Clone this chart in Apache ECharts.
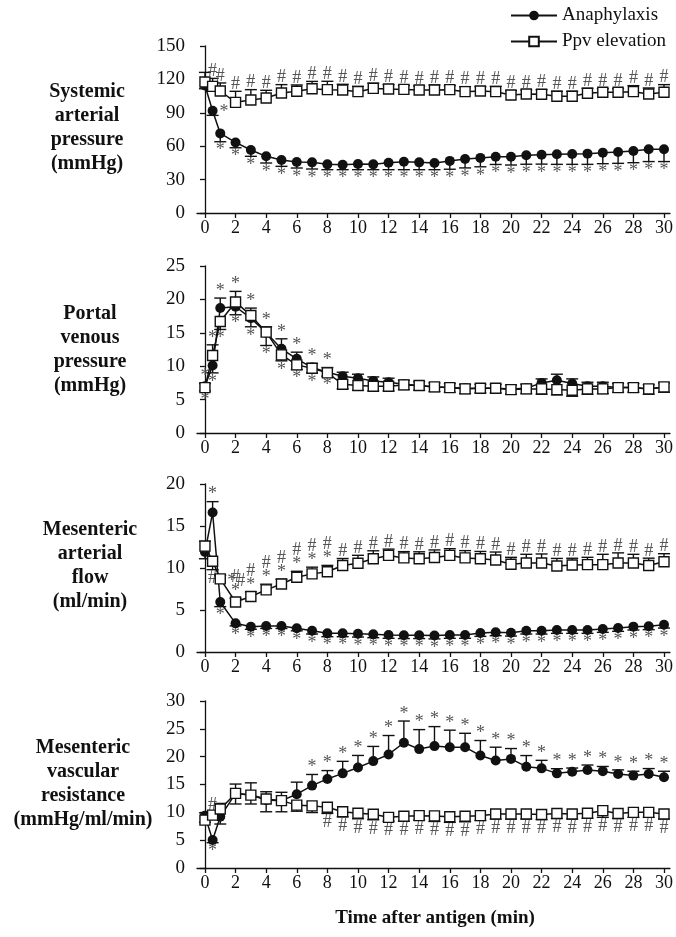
<!DOCTYPE html>
<html>
<head>
<meta charset="utf-8">
<title>Anaphylaxis vs Ppv elevation</title>
<script src="https://cdn.jsdelivr.net/npm/echarts@6/dist/echarts.min.js"></script>
<style>
  html, body { margin: 0; padding: 0; background: #fff; }
  #chart { width: 676px; height: 937px; }
</style>
</head>
<body>
<div id="chart"></div>
<script>
// sampling times, min after antigen
const times = [0, 0.5, 1, 2, 3, 4, 5, 6, 7, 8, 9, 10, 11, 12, 13, 14, 15, 16, 17, 18, 19, 20, 21, 22, 23, 24, 25, 26, 27, 28, 29, 30];
const xTicks = [0, 2, 4, 6, 8, 10, 12, 14, 16, 18, 20, 22, 24, 26, 28, 30];

// systemic arterial pressure (mmHg)
const sapAna = [114.6, 91.9, 71.5, 63.4, 56.6, 50.9, 47.6, 45.8, 45.5, 43.7, 43.4, 44.0, 43.7, 45.2, 46.1, 45.5, 44.9, 46.8, 48.5, 49.5, 50.6, 50.6, 51.8, 52.4, 52.7, 53.0, 53.3, 54.2, 54.8, 55.7, 57.2, 57.2];
const sapAnaSd = [3, 4.2, 7.5, 4.8, 5.7, 6.0, 5.7, 5.4, 6.0, 4.8, 4.5, 5.1, 4.8, 6.3, 7.2, 6.6, 6.0, 7.5, 8.0, 8.0, 7.0, 7.5, 8.0, 8.5, 9.0, 9.3, 9.6, 9.9, 10.2, 10.5, 11.0, 11.0];
const sapPpv = [117.6, 113.7, 109.6, 99.4, 101.5, 103.3, 107.8, 109.3, 111.6, 110.8, 110.5, 109.0, 111.9, 111.4, 111.0, 110.5, 110.5, 110.8, 109.0, 109.6, 109.0, 106.0, 106.9, 106.6, 104.8, 104.8, 107.5, 108.4, 108.4, 109.0, 106.9, 108.4];
const sapPpvSd = [8.7, 7.2, 7.2, 9.9, 9.3, 6.9, 7.5, 5.7, 6.6, 7.5, 5.1, 4.8, 4.8, 3.9, 3.6, 3.6, 4.5, 3.6, 4.5, 3.9, 4.8, 3.9, 3.6, 4.2, 4.5, 4.5, 4.5, 3.3, 3.3, 5.4, 5.4, 6.9];
const sapAnaSig = ['', '*', '*', '*', '*', '*', '*', '*', '*', '*', '*', '*', '*', '*', '*', '*', '*', '*', '*', '*', '*', '*', '*', '*', '*', '*', '*', '*', '*', '*', '*', '*'];
const sapPpvSig = ['', '#', '#', '#', '#', '#', '#', '#', '#', '#', '#', '#', '#', '#', '#', '#', '#', '#', '#', '#', '#', '#', '#', '#', '#', '#', '#', '#', '#', '#', '#', '#'];

// portal venous pressure (mmHg)
const pvpAna = [7.0, 10.1, 18.7, 18.9, 17.2, 15.0, 12.6, 11.1, 9.8, 9.1, 8.5, 8.2, 7.8, 7.6, 7.3, 7.1, 6.9, 6.8, 6.7, 6.7, 6.7, 6.6, 6.7, 7.5, 7.9, 7.4, 7.0, 7.0, 6.8, 6.8, 6.6, 6.9];
const pvpAnaSd = [0.4, 1.1, 1.5, 1.2, 1.3, 1.9, 1.5, 1.0, 0.6, 0.7, 0.6, 0.6, 0.6, 0.6, 0.6, 0.6, 0.6, 0.6, 0.6, 0.6, 0.6, 0.6, 0.6, 0.6, 0.9, 0.7, 0.6, 0.6, 0.6, 0.6, 0.6, 0.6];
const pvpPpv = [6.8, 11.6, 16.7, 19.6, 17.6, 15.1, 11.7, 10.2, 9.7, 9.0, 7.3, 7.1, 7.0, 7.0, 7.2, 7.1, 6.9, 6.8, 6.6, 6.7, 6.7, 6.5, 6.6, 6.6, 6.5, 6.4, 6.6, 6.6, 6.8, 6.8, 6.6, 6.9];
const pvpPpvSd = [0.5, 1.6, 1.2, 1.6, 1.1, 0.8, 0.9, 0.7, 0.7, 0.5, 0.7, 0.7, 0.7, 0.7, 0.7, 0.7, 0.7, 0.7, 0.7, 0.7, 0.7, 0.7, 0.7, 0.8, 0.8, 0.9, 0.8, 0.7, 0.7, 0.7, 0.8, 0.8];
const pvpAnaSig = ['*', '*', '*', '*', '*', '*', '*', '*', '*', '*', '', '', '', '', '', '', '', '', '', '', '', '', '', '', '', '', '', '', '', '', '', ''];
const pvpPpvSig = ['*', '*', '*', '*', '*', '*', '*', '*', '*', '*', '', '', '', '', '', '', '', '', '', '', '', '', '', '', '', '', '', '', '', '', '', ''];

// mesenteric arterial flow (ml/min)
const mafAna = [11.9, 16.6, 5.95, 3.41, 3.0, 3.1, 3.1, 2.82, 2.54, 2.22, 2.22, 2.18, 2.1, 2.03, 2.0, 2.0, 1.96, 2.03, 2.03, 2.26, 2.34, 2.3, 2.54, 2.54, 2.62, 2.62, 2.62, 2.74, 2.86, 3.02, 3.06, 3.25];
const mafAnaSd = [0.8, 1.3, 0.55, 0.3, 0.3, 0.3, 0.3, 0.3, 0.4, 0.4, 0.4, 0.4, 0.4, 0.4, 0.4, 0.4, 0.4, 0.4, 0.4, 0.4, 0.4, 0.4, 0.4, 0.4, 0.4, 0.4, 0.4, 0.4, 0.4, 0.4, 0.4, 0.4];
const mafPpv = [12.6, 10.8, 8.7, 5.95, 6.6, 7.4, 8.1, 8.9, 9.3, 9.56, 10.3, 10.56, 11.1, 11.5, 11.2, 11.1, 11.25, 11.5, 11.2, 11.1, 10.95, 10.44, 10.6, 10.6, 10.24, 10.36, 10.4, 10.4, 10.6, 10.6, 10.3, 10.75];
const mafPpvSd = [0.6, 1.0, 0.44, 0.44, 0.56, 0.67, 0.56, 0.71, 0.8, 0.75, 0.83, 0.95, 0.95, 0.75, 0.75, 0.83, 0.9, 0.8, 0.87, 0.87, 0.95, 0.83, 1.03, 1.07, 0.9, 0.8, 0.87, 1.23, 1.2, 1.03, 0.87, 0.95];
const mafAnaSig = ['', '*', '*', '*', '*', '*', '*', '*', '*', '*', '*', '*', '*', '*', '*', '*', '*', '*', '*', '*', '*', '*', '*', '*', '*', '*', '*', '*', '*', '*', '*', '*'];
const mafPpvSig = ['', '#', '*#', '*#', '*#', '*#', '*#', '*#', '*#', '*#', '#', '#', '#', '#', '#', '#', '#', '#', '#', '#', '#', '#', '#', '#', '#', '#', '#', '#', '#', '#', '#', '#'];

// mesenteric vascular resistance (mmHg/ml/min)
const mvrAna = [9.4, 5.04, 9.2, 13.4, 13.1, 12.2, 12.1, 13.26, 14.8, 16.0, 17.0, 18.06, 19.2, 20.4, 22.5, 21.36, 21.9, 21.7, 21.7, 20.2, 19.3, 19.6, 18.2, 17.9, 17.0, 17.3, 17.6, 17.4, 16.9, 16.6, 16.9, 16.3];
const mvrAnaSd = [0.5, 0.5, 1.3, 1.68, 2.2, 2.1, 1.5, 2.16, 2.0, 1.5, 2.16, 2.16, 2.64, 3.4, 3.9, 3.5, 3.5, 3.06, 2.5, 2.7, 2.4, 1.86, 2.0, 1.44, 0.84, 0.66, 0.9, 0.84, 0.72, 0.78, 0.96, 1.08];
const mvrPpv = [8.6, 9.5, 10.6, 13.4, 13.1, 12.4, 12.1, 11.3, 11.16, 10.9, 10.1, 9.84, 9.66, 9.1, 9.3, 9.4, 9.36, 9.2, 9.3, 9.4, 9.7, 9.7, 9.7, 9.6, 9.8, 9.7, 9.84, 10.3, 9.8, 10.0, 10.0, 9.7];
const mvrPpvSd = [0.4, 0.5, 1.0, 1.9, 1.6, 1.3, 2.0, 1.1, 1.2, 1.1, 0.9, 1.0, 1.0, 0.7, 0.9, 0.8, 1.0, 1.0, 1.0, 0.85, 0.9, 0.9, 0.9, 0.9, 0.9, 0.9, 0.9, 1.2, 0.9, 0.9, 0.9, 0.9];
const mvrAnaSig = ['', '*', '', '', '', '', '', '', '*', '*', '*', '*', '*', '*', '*', '*', '*', '*', '*', '*', '*', '*', '*', '*', '*', '*', '*', '*', '*', '*', '*', '*'];
const mvrPpvSig = ['', '#', '', '', '', '', '', '', '', '#', '#', '#', '#', '#', '#', '#', '#', '#', '#', '#', '#', '#', '#', '#', '#', '#', '#', '#', '#', '#', '#', '#'];

const SERIF = '"Liberation Serif", "DejaVu Serif", serif';
const INK = '#111';
const MARK = '#555';

// layout of the four stacked panels
const panels = [
  { label: 'Systemic\narterial\npressure\n(mmHg)', lx: 87, ly: 128, top: 46, height: 167, max: 150, step: 30,
    ana: sapAna, anaSd: sapAnaSd, anaSig: sapAnaSig, ppv: sapPpv, ppvSd: sapPpvSd, ppvSig: sapPpvSig, anaRight: [1], ppvRight: [] },
  { label: 'Portal\nvenous\npressure\n(mmHg)', lx: 90, ly: 350, top: 266, height: 167, max: 25, step: 5,
    ana: pvpAna, anaSd: pvpAnaSd, anaSig: pvpAnaSig, ppv: pvpPpv, ppvSd: pvpPpvSd, ppvSig: pvpPpvSig, anaRight: [], ppvRight: [] },
  { label: 'Mesenteric\narterial\nflow\n(ml/min)', lx: 90, ly: 566, top: 484, height: 168, max: 20, step: 5,
    ana: mafAna, anaSd: mafAnaSd, anaSig: mafAnaSig, ppv: mafPpv, ppvSd: mafPpvSd, ppvSig: mafPpvSig, anaRight: [], ppvRight: [2] },
  { label: 'Mesenteric\nvascular\nresistance\n(mmHg/ml/min)', lx: 83, ly: 784, top: 701, height: 167, max: 30, step: 5,
    ana: mvrAna, anaSd: mvrAnaSd, anaSig: mvrAnaSig, ppv: mvrPpv, ppvSd: mvrPpvSd, ppvSig: mvrPpvSig, anaRight: [], ppvRight: [] }
];

// error bar drawn away from the other curve, with the significance mark past its cap
function errorSeries(g, mean, sd, other, sig, isAna, rightIdx) {
  const data = times.map((t, i) => {
    const up = isAna ? mean[i] >= other[i] : mean[i] > other[i];
    return [t, mean[i], sd[i], up ? 1 : -1];
  });
  return {
    type: 'custom',
    xAxisIndex: g,
    yAxisIndex: g,
    z: 1,
    silent: true,
    clip: false,
    data: data,
    renderItem: function (params, api) {
      const i = params.dataIndex;
      const t = api.value(0), m = api.value(1), s = api.value(2), d = api.value(3);
      const a = api.coord([t, m]);
      const b = api.coord([t, m + d * s]);
      const kids = [
        { type: 'line', shape: { x1: a[0], y1: a[1], x2: b[0], y2: b[1] }, style: { stroke: INK, lineWidth: 1.4 } },
        { type: 'line', shape: { x1: b[0] - 6, y1: b[1], x2: b[0] + 6, y2: b[1] }, style: { stroke: INK, lineWidth: 1.4 } }
      ];
      const mark = sig[i];
      if (mark) {
        if (rightIdx.indexOf(i) >= 0) {
          kids.push({ type: 'text', style: { text: mark, x: a[0] + 7, y: a[1] + 2, align: 'left', verticalAlign: 'middle',
            font: '18px ' + SERIF, fill: MARK } });
        } else {
          const chars = mark.split('');
          const txt = (d > 0 ? chars.reverse() : chars).join('\n');
          kids.push({ type: 'text', style: { text: txt, x: b[0], y: b[1] + (d > 0 ? 0 : 2),
            align: 'center', verticalAlign: d > 0 ? 'bottom' : 'top', lineHeight: 14,
            font: '18px ' + SERIF, fill: MARK } });
        }
      }
      return { type: 'group', children: kids };
    }
  };
}

const grids = [], xAxes = [], yAxes = [], series = [], graphics = [];
panels.forEach(function (p, g) {
  grids.push({ left: 197, right: 4, top: p.top, height: p.height, containLabel: false });
  xAxes.push({
    type: 'value', gridIndex: g, min: -0.52, max: 30.39,
    axisLine: { lineStyle: { color: INK, width: 1.3 } },
    axisTick: { length: 5, lineStyle: { color: INK, width: 1.3 }, customValues: xTicks },
    axisLabel: { customValues: xTicks, color: INK, fontFamily: SERIF, fontSize: 18, margin: 6 },
    splitLine: { show: false }
  });
  yAxes.push({
    type: 'value', gridIndex: g, min: 0, max: p.max, interval: p.step,
    axisLine: { show: true, lineStyle: { color: INK, width: 1.3 } },
    axisTick: { show: true, length: 5, lineStyle: { color: INK, width: 1.3 } },
    axisLabel: { color: INK, fontFamily: SERIF, fontSize: 19, margin: 12 },
    splitLine: { show: false }
  });
  series.push(errorSeries(g, p.ana, p.anaSd, p.ppv, p.anaSig, true, p.anaRight));
  series.push(errorSeries(g, p.ppv, p.ppvSd, p.ana, p.ppvSig, false, p.ppvRight));
  series.push({
    name: 'Anaphylaxis', type: 'line', xAxisIndex: g, yAxisIndex: g, z: 3,
    data: times.map(function (t, i) { return [t, p.ana[i]]; }),
    symbol: 'circle', symbolSize: 10, showAllSymbol: true,
    itemStyle: { color: INK },
    lineStyle: { color: INK, width: 1.5 }
  });
  series.push({
    name: 'Ppv elevation', type: 'line', xAxisIndex: g, yAxisIndex: g, z: 4,
    data: times.map(function (t, i) { return [t, p.ppv[i]]; }),
    symbol: 'rect', symbolSize: 10, showAllSymbol: true,
    itemStyle: { color: '#fff', borderColor: INK, borderWidth: 1.4 },
    lineStyle: { color: INK, width: 1.5 }
  });
  graphics.push({
    type: 'text', x: p.lx, y: p.ly,
    style: { text: p.label, align: 'center', verticalAlign: 'middle', lineHeight: 24,
      font: 'bold 20px ' + SERIF, fill: INK }
  });
});

graphics.push({
  type: 'text', x: 435, y: 918,
  style: { text: 'Time after antigen (min)', align: 'center', verticalAlign: 'middle',
    font: 'bold 19px ' + SERIF, fill: INK }
});

const chart = echarts.init(document.getElementById('chart'));
chart.setOption({
  backgroundColor: '#fff',
  animation: false,
  legend: {
    data: ['Anaphylaxis', 'Ppv elevation'],
    orient: 'vertical',
    left: 505,
    top: 1,
    itemWidth: 46,
    itemHeight: 12,
    itemGap: 7,
    textStyle: { color: INK, fontFamily: SERIF, fontSize: 19 }
  },
  grid: grids,
  xAxis: xAxes,
  yAxis: yAxes,
  series: series,
  graphic: graphics
});
</script>
</body>
</html>
